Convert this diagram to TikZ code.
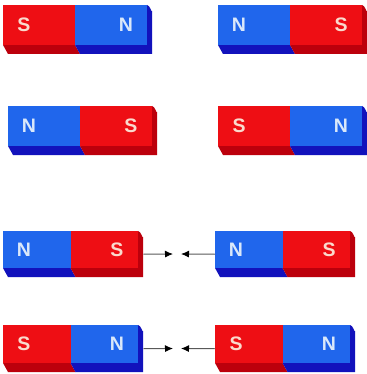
\documentclass[tikz,border=0pt]{standalone}
\usepackage{fontspec}
\setsansfont{Liberation Sans}
\usepackage{tikz}
\usetikzlibrary{arrows.meta}

\definecolor{faceS}{RGB}{238,14,20}
\definecolor{darkS}{RGB}{188,0,12}
\definecolor{inkS}{RGB}{250,218,205}
\definecolor{faceN}{RGB}{32,102,236}
\definecolor{darkN}{RGB}{18,18,188}
\definecolor{inkN}{RGB}{218,232,250}

\tikzset{
  letter/.style={font=\sffamily\bfseries\fontsize{19.5}{20}\selectfont, inner sep=0pt},
  pull/.style={draw=black!65, line width=0.9pt, -{Latex[length=8pt,width=7pt,black]}}
}

\begin{document}
\begin{tikzpicture}[x=1pt, y=-1pt]
    \useasboundingbox (0,0) rectangle (366,374);

    % Draw the magnets: name/x/y/width/height/left pole/right pole
    \foreach \n/\x/\y/\w/\h/\pl/\pr in {m1a/3/5/144/40/S/N, m1b/218/5/144/40/N/S,
        m2a/8/106/144/40/N/S, m2b/218/106/144/40/S/N,
        m3a/3/231/135/37/N/S, m3b/215/231/135/37/N/S,
        m4a/3/325/135/38/S/N, m4b/215/325/135/38/S/N} {
      % bottom and right side
      \fill[dark\pl] (\x,\y+\h) -- (\x+5,\y+\h+9) -- (\x+\w/2+5,\y+\h+9) -- (\x+\w/2,\y+\h) -- cycle;
      \fill[dark\pr] (\x+\w/2,\y+\h) -- (\x+\w/2+5,\y+\h+9) -- (\x+\w+5,\y+\h+9)
        -- (\x+\w+5,\y+6) to[out=-90,in=0] (\x+\w,\y) -- cycle;
      % front face
      \fill[face\pl] (\x,\y) rectangle (\x+\w/2,\y+\h);
      \fill[face\pr] (\x+\w/2,\y) rectangle (\x+\w,\y+\h);
      \node[letter, text=ink\pl] (\n-\pl) at (\x+21,\y+\h/2) {\pl};
      \node[letter, text=ink\pr] (\n-\pr) at (\x+\w-21,\y+\h/2) {\pr};
      \node[inner sep=0pt, anchor=north west, minimum width={(\w+5)*1pt},
        minimum height={(\h+9)*1pt}] (\n) at (\x,\y) {};
    }

    % Attraction arrows
    \coordinate (t3a) at (173,254);
    \coordinate (t3b) at (181,254);
    \draw[pull] (m3a.east) -- (t3a);
    \draw[pull] (m3b.west) -- (t3b);

    \coordinate (t4a) at (173,348.5);
    \coordinate (t4b) at (181,348.5);
    \draw[pull] (m4a.east) -- (t4a);
    \draw[pull] (m4b.west) -- (t4b);
\end{tikzpicture}
\end{document}
